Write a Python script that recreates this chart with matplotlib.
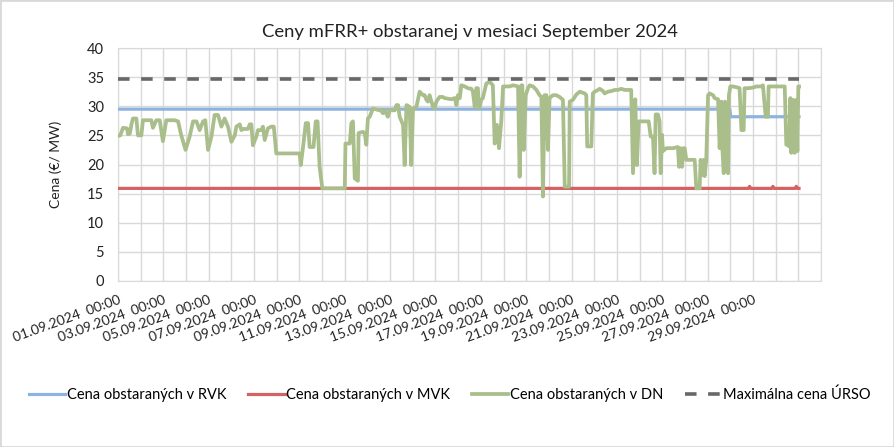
import numpy as np
import matplotlib
matplotlib.use("Agg")
from matplotlib import pyplot as plt
from matplotlib.patches import Rectangle

plt.rcParams['font.family'] = ['Lato', 'DejaVu Sans']

# x in days from 01.09.2024 00:00
tick_days = list(range(0, 29, 2))
tick_labels = ["%02d.09.2024  00:00" % (d + 1) for d in tick_days]

rvk_day = [0, 26.98, 27.02, 30.03]
rvk_price = [29.5, 29.5, 28.2, 28.2]

mvk_day = [0, 27.8, 27.85, 27.9, 28.83, 28.88, 28.93, 29.86, 29.91, 29.96, 30.03]
mvk_price = [15.9, 15.9, 16.25, 15.9, 15.9, 16.25, 15.9, 15.9, 16.25, 15.9, 15.9]

ursO_day = [0, 30.03]
ursO_price = [34.65, 34.65]

dn_day = [
    0.00, 0.10, 0.22, 0.40, 0.44, 0.52, 0.60, 0.66, 0.81, 0.88, 1.03, 1.10, 1.32, 1.47,
    1.54, 1.69, 1.84, 1.98, 2.13, 2.35, 2.50, 2.65, 2.79, 2.98, 3.16, 3.31, 3.46, 3.60,
    3.75, 3.85, 3.97, 4.12, 4.26, 4.41, 4.56, 4.70, 4.85, 5.00, 5.15, 5.22, 5.37, 5.44,
    5.51, 5.73, 5.81, 5.88, 5.95, 6.10, 6.17, 6.32, 6.39, 6.47, 6.61, 6.76, 6.87, 6.98,
    8.01, 8.06, 8.16, 8.28, 8.38, 8.45, 8.62, 8.72, 8.80, 8.89, 9.01, 10.00, 10.03, 10.22,
    10.29, 10.36, 10.44, 10.58, 10.61, 10.80, 10.88, 10.95, 11.02, 11.10, 11.24, 11.54,
    11.61, 11.68, 11.76, 11.90, 11.98, 12.20, 12.28, 12.35, 12.42, 12.57, 12.64, 12.72,
    12.86, 12.93, 13.01, 13.16, 13.30, 13.45, 13.52, 13.60, 13.67, 13.74, 13.89, 13.96,
    14.04, 14.18, 14.33, 14.40, 14.70, 14.85, 14.92, 14.99, 15.07, 15.14, 15.29, 15.43,
    15.58, 15.65, 15.73, 15.80, 15.87, 15.92, 15.95, 16.02, 16.09, 16.24, 16.39, 16.53,
    16.61, 16.71, 16.80, 16.90, 16.98, 17.12, 17.27, 17.42, 17.64, 17.71, 17.79, 17.83,
    17.89, 17.98, 18.08, 18.15, 18.30, 18.45, 18.59, 18.67, 18.74, 18.81, 18.89, 18.96,
    19.03, 19.18, 19.33, 19.47, 19.62, 19.70, 19.89, 19.92, 20.06, 20.21, 20.36, 20.58,
    20.65, 20.69, 20.87, 20.94, 21.02, 21.17, 21.24, 21.39, 21.46, 21.61, 21.75, 21.90,
    22.05, 22.19, 22.34, 22.63, 22.71, 22.81, 22.88, 22.96, 23.40, 23.49, 23.59, 23.66,
    23.71, 23.81, 23.88, 23.93, 23.99, 24.03, 24.18, 24.47, 24.69, 24.74, 24.81, 24.87,
    24.93, 24.99, 25.06, 25.43, 25.50, 25.65, 25.69, 25.77, 25.83, 25.87, 25.94, 26.02,
    26.09, 26.24, 26.31, 26.46, 26.53, 26.61, 26.65, 26.71, 26.77, 26.83, 26.90, 26.94,
    27.00, 27.12, 27.34, 27.41, 27.49, 27.59, 27.63, 27.78, 28.00, 28.15, 28.37, 28.44,
    28.56, 28.66, 28.69, 28.88, 29.25, 29.40, 29.47, 29.55, 29.59, 29.65, 29.69, 29.77,
    29.84, 29.91, 29.96, 30.00, 30.03,
]
dn_price = [
    24.9, 25.0, 26.3, 26.2, 25.2, 25.3, 27.0, 27.9, 27.9, 25.0, 25.0, 27.6, 27.6, 27.6,
    26.3, 27.6, 27.6, 24.0, 27.6, 27.6, 27.6, 27.4, 25.0, 22.5, 24.8, 27.4, 27.4, 25.9,
    27.4, 27.6, 22.5, 24.8, 28.5, 28.5, 26.5, 27.9, 26.5, 23.9, 25.0, 26.5, 26.9, 25.9,
    26.1, 26.1, 26.9, 26.9, 23.3, 24.8, 25.9, 25.9, 26.5, 24.2, 26.2, 26.5, 26.5, 21.9,
    21.9, 19.9, 23.0, 27.1, 27.1, 23.0, 23.0, 27.4, 27.4, 19.6, 15.9, 15.9, 23.6, 23.6,
    27.1, 27.4, 17.6, 17.2, 25.4, 25.6, 25.4, 23.4, 27.9, 28.2, 29.6, 29.3,
    29.3, 28.8, 29.3, 28.2, 29.3, 29.3, 30.2, 30.2, 28.2, 26.8, 19.9, 30.2,
    29.9, 19.9, 29.6, 29.9, 32.5, 31.9, 31.9, 31.1, 30.8, 31.9, 29.9, 29.6,
    30.8, 31.6, 31.6, 31.4, 31.2, 31.4, 30.2, 31.9, 31.4, 33.6, 33.4, 33.1,
    33.0, 32.5, 29.9, 33.1, 33.1, 29.6, 29.9, 31.1, 31.4, 33.9, 34.2, 33.6,
    23.6, 26.8, 22.8, 27.4, 33.4, 33.4, 33.4, 33.6, 33.4, 17.9, 33.6, 33.6,
    22.5, 31.9, 33.1, 33.6, 33.4, 32.8, 31.9, 31.6, 14.5, 31.9, 31.9, 22.5,
    31.4, 31.9, 31.9, 31.6, 31.1, 16.2, 16.2, 30.8, 31.1, 32.0, 32.5, 32.2,
    31.9, 23.1, 23.1, 32.2, 32.5, 32.8, 33.0, 32.6, 32.2, 32.5, 32.6, 32.8,
    32.8, 33.0, 32.8, 32.8, 18.5, 31.2, 19.9, 27.4, 27.4, 24.8, 24.8, 18.5,
    28.6, 28.6, 27.4, 18.5, 25.1, 22.3, 22.8, 22.8, 23.0, 19.6, 22.8, 19.6,
    22.8, 22.8, 20.8, 20.8, 15.9, 15.9, 20.8, 18.2, 20.8, 18.0, 20.8, 31.9,
    32.2, 31.9, 31.4, 31.2, 22.8, 30.8, 22.8, 18.5, 30.8, 21.6, 18.5, 31.9,
    33.4, 33.4, 33.2, 33.1, 25.9, 25.9, 33.1, 33.1, 33.2, 33.4, 33.4, 33.6,
    28.2, 28.2, 33.4, 33.4, 33.4, 33.4, 23.4, 23.4, 23.1, 31.4, 22.0, 31.1,
    22.0, 31.1, 22.3, 33.4, 33.4,
]

fig = plt.figure(figsize=(8.94, 4.47), dpi=100)
ax = fig.add_axes([118 / 894, 1 - 281 / 447, (821 - 118) / 894, (281 - 48) / 447])

ax.plot(rvk_day, rvk_price, color='#8FB3E0', lw=2.3, label='Cena obstaraných v RVK', zorder=3)
ax.plot(mvk_day, mvk_price, color='#D46262', lw=2.3, label='Cena obstaraných v MVK', zorder=3)
ax.plot(dn_day, dn_price, color='#A9BE8B', lw=2.7, label='Cena obstaraných v DN', zorder=4)
ax.plot(ursO_day, ursO_price, color='#686868', lw=2.6, ls=(0, (3.2, 3.2)),
        label='Maximálna cena ÚRSO', zorder=5)

ax.set_xlim(0, 31)
ax.set_ylim(0, 40)
ax.set_yticks(range(0, 41, 5))
ax.set_xticks(tick_days)
ax.set_xticklabels(tick_labels, rotation=20, ha='right', va='top', rotation_mode='anchor',
                   fontsize=10, color='#222222')
ax.set_xticks(range(0, 32), minor=True)
ax.tick_params(axis='both', which='both', length=0)
ax.tick_params(axis='y', labelsize=10.5, labelcolor='#222222', pad=10)
ax.tick_params(axis='x', pad=9)
ax.grid(True, which='both', color='#D9D9D9', lw=1)
ax.set_axisbelow(True)
for s in ax.spines.values():
    s.set_color('#D9D9D9')

ax.set_ylabel('Cena (€/ MW)', fontsize=10, color='#222222', labelpad=18)
ax.set_title('Ceny mFRR+ obstaranej v mesiaci September 2024', fontsize=13.3,
             color='#222222', pad=8)

fig.legend(loc='center', bbox_to_anchor=(0.503, 1 - 395 / 447), ncol=4, frameon=False,
           fontsize=10.5, handlelength=2.5, columnspacing=1.5, handletextpad=0.1)

fig.add_artist(Rectangle((0, 0), 1, 1, transform=fig.transFigure, fill=False,
                         edgecolor='#D9D9D9', lw=2))

fig.savefig('out.png', dpi=100)
